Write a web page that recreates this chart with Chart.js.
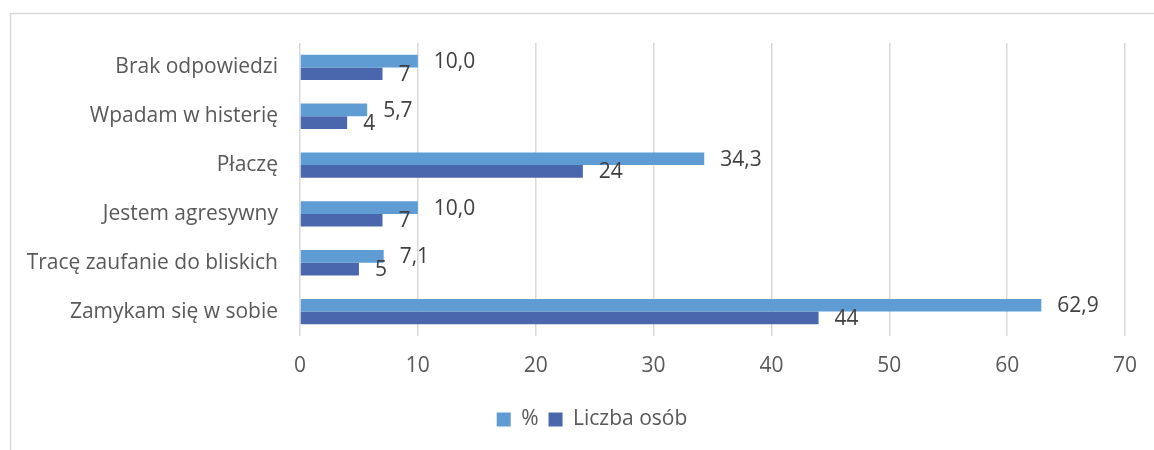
<!DOCTYPE html>
<html>
<head>
<meta charset="utf-8">
<script src="https://cdn.jsdelivr.net/npm/chart.js@4"></script>
<style>
  body { margin: 0; background: #fff; }
  #wrap { width: 1154px; height: 450px; }
</style>
</head>
<body>
<div id="wrap"><canvas id="myChart" width="1154" height="450"></canvas></div>
<script>
const categories = ['Brak odpowiedzi', 'Wpadam w histerię', 'Płaczę', 'Jestem agresywny', 'Tracę zaufanie do bliskich', 'Zamykam się w sobie'];
const percentValues = [10.0, 5.7, 34.3, 10.0, 7.1, 62.9];
const countValues = [7, 4, 24, 7, 5, 44];
const xTicks = [0, 10, 20, 30, 40, 50, 60, 70];

const FONT = '"Open Sans", sans-serif';

// outer frame like the Excel chart border (cropped on right/bottom)
const framePlugin = {
    id: 'frame',
    beforeDraw(chart) {
        const c = chart.ctx;
        c.save();
        c.strokeStyle = '#d9d9d9';
        c.lineWidth = 1.5;
        c.beginPath();
        c.moveTo(10.5, 450);
        c.lineTo(10.5, 13.5);
        c.lineTo(1154, 13.5);
        c.stroke();
        c.restore();
    },
    // legend is centred a bit right of the canvas centre in the original
    afterLayout(chart) {
        const lg = chart.legend;
        const d = 592 - (lg.left + lg.right) / 2;
        lg.left += d;
        lg.right += d;
    }
};

// value labels at the end of every bar
const labelPlugin = {
    id: 'valueLabels',
    afterDatasetsDraw(chart) {
        const c = chart.ctx;
        c.save();
        c.font = '21px ' + FONT;
        c.fillStyle = '#404040';
        c.textAlign = 'left';
        c.textBaseline = 'middle';
        chart.data.datasets.forEach((ds, i) => {
            const meta = chart.getDatasetMeta(i);
            meta.data.forEach((bar, j) => {
                const v = ds.data[j];
                const txt = i === 0 ? v.toFixed(1).replace('.', ',') : String(v);
                c.fillText(txt, bar.x + 16, bar.y + 1);
            });
        });
        c.restore();
    }
};

const ctx = document.getElementById('myChart');

const chart = new Chart(ctx, {
    type: 'bar',
    data: {
        labels: categories,
        datasets: [{
            label: '%',
            data: percentValues,
            backgroundColor: '#5E9CD3',
            barPercentage: 1.0,
            categoryPercentage: 0.52
        }, {
            label: 'Liczba osób',
            data: countValues,
            backgroundColor: '#4A66AC',
            barPercentage: 1.0,
            categoryPercentage: 0.52
        }]
    },
    options: {
        indexAxis: 'y',
        responsive: false,
        animation: false,
        devicePixelRatio: 1,
        layout: {
            padding: { top: 43, left: 12, right: 28, bottom: 10 }
        },
        scales: {
            x: {
                min: 0,
                max: 70,
                afterBuildTicks: (scale) => { scale.ticks = xTicks.map(v => ({ value: v })); },
                afterFit: (scale) => { scale.height = 63; },
                grid: { color: '#d9d9d9', lineWidth: 1.5, drawTicks: false },
                border: { display: false },
                ticks: {
                    color: '#595959',
                    font: { family: FONT, size: 21 },
                    padding: 17
                }
            },
            y: {
                afterFit: (scale) => { scale.width = 288; },
                grid: { display: false, drawTicks: false },
                border: { display: false },
                ticks: {
                    color: '#595959',
                    font: { family: FONT, size: 21 },
                    padding: 22
                }
            }
        },
        plugins: {
            legend: {
                position: 'bottom',
                labels: {
                    boxWidth: 14,
                    boxHeight: 14,
                    padding: 10,
                    color: '#595959',
                    font: { family: FONT, size: 21 }
                }
            },
            tooltip: { enabled: false }
        }
    },
    plugins: [framePlugin, labelPlugin]
});
</script>
</body>
</html>
